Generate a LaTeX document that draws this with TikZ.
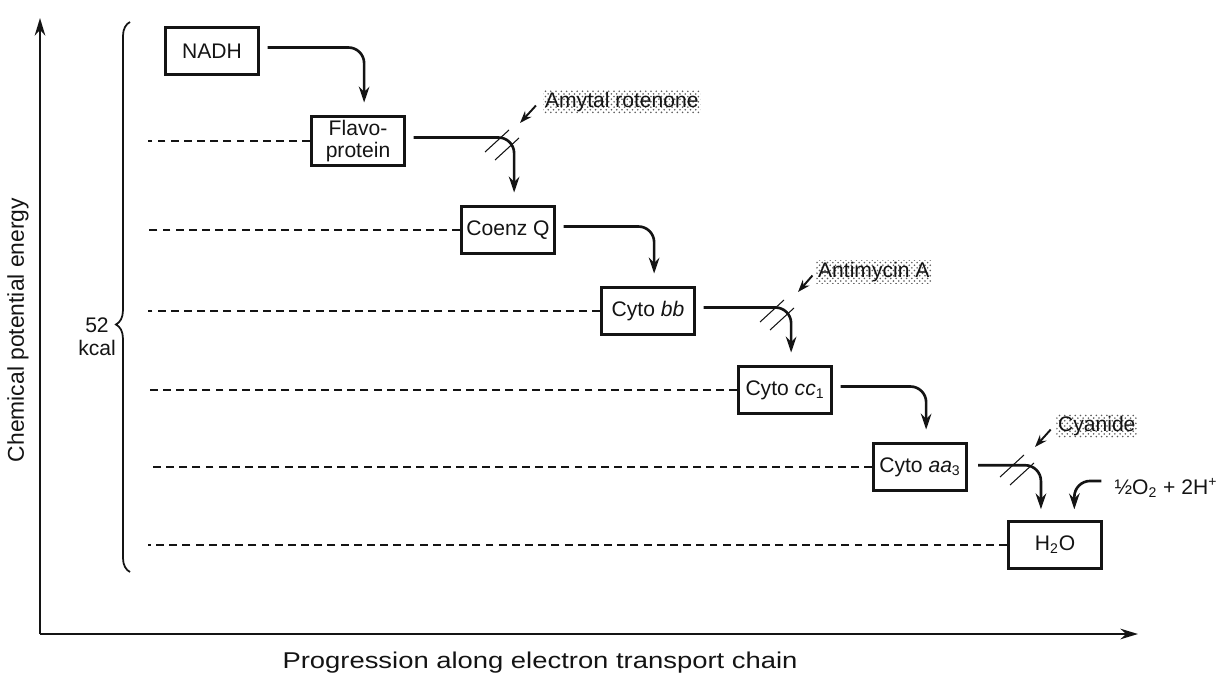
\documentclass[tikz,border=0pt]{standalone}
\usepackage{fontspec}
\setmainfont{Liberation Sans}
\usepackage{tikz}
\usetikzlibrary{arrows.meta,positioning,decorations.pathreplacing,patterns}
\definecolor{inkblack}{RGB}{20, 20, 20}
\definecolor{stipplegray}{RGB}{90, 90, 90}

% two parallel strokes across a blocked step
\newcommand{\cutmark}[1]{%
    \draw[cutline] ([shift={(-18,10)}]#1) -- ++(24,-22);
    \draw[cutline] ([shift={(-8,18)}]#1) -- ++(24,-22);
}

\begin{document}
\begin{tikzpicture}[x=0.02cm, y=-0.02cm, every node/.style={font=\fontsize{12}{13}\selectfont, text=inkblack},
    carrier/.style={draw=inkblack, line width=1.6pt, minimum width=1.85cm, minimum height=0.95cm, inner sep=2pt, align=center},
    flow/.style={draw=inkblack, line width=1.5pt, rounded corners=9pt, -{Stealth[length=9pt,width=6pt]}},
    level/.style={draw=inkblack, line width=0.7pt, dash pattern=on 4.5pt off 3pt},
    poison/.style={pattern=crosshatch dots, pattern color=stipplegray, inner sep=1pt, anchor=west},
    hint/.style={draw=inkblack, line width=1.1pt, -{Stealth[length=7pt,width=5pt]}},
    cutline/.style={draw=inkblack, line width=0.6pt},
    axis/.style={draw=inkblack, line width=1.4pt, -{Stealth[length=10pt,width=6pt]}}]
    \useasboundingbox (0,0) rectangle (1221,679);

    % Axes
    \coordinate (origin) at (40,634);
    \draw[axis] (origin) -- (40,18);
    \draw[axis] (origin) -- (1138,634);
    \node[rotate=90, font=\fontsize{13}{14}\selectfont] (ylab) at (18,330) {Chemical potential energy};
    \node[xscale=1.2, font=\fontsize{13}{14}\selectfont] (xlab) at (540,663) {Progression along electron transport chain};

    % Energy span
    \draw[inkblack, line width=1pt, decorate, decoration={brace, amplitude=8pt, aspect=0.45}] (130,572) -- (130,22);
    \node[align=center] (span) at (97,337) {52\\kcal};

    % Carriers
    \node[carrier] (nadh)  at (212,51)  {NADH};
    \node[carrier] (flavo) at (358,141) {Flavo-\\protein};
    \node[carrier] (coq)   at (508,230) {Coenz Q};
    \node[carrier] (cytb)  at (648,311) {Cyto \textit{bb}};
    \node[carrier] (cytc)  at (785,390) {Cyto \textit{cc}\textsubscript{1}};
    \node[carrier] (cyta)  at (920,467) {Cyto \textit{aa}\textsubscript{3}};
    \node[carrier] (water) at (1055,545) {H\textsubscript{2}O};

    % Energy levels
    \coordinate (lft) at (148,0);
    \foreach \n in {flavo, coq, cytb, cytc, cyta, water}
        \draw[level] (\n.west) -- (\n.west -| lft);

    % Electron flow
    \foreach \a/\b in {nadh/flavo, flavo/coq, coq/cytb, cytb/cytc, cytc/cyta}
        \draw[flow] ([xshift=4.5pt,yshift=2pt]\a.east) -| ([xshift=3.5pt,yshift=7pt]\b.north);
    \draw[flow] ([xshift=6pt,yshift=1pt]cyta.east) -| ([xshift=-8pt,yshift=6pt]water.north);

    \node (oxy) at (1166,488) {\textonehalf O\textsubscript{2} + 2H\textsuperscript{+}};
    \draw[flow] ([xshift=-4pt,yshift=4pt]oxy.west) -| ([xshift=11pt,yshift=6pt]water.north);

    % Inhibitors
    \node[poison] (amytal) at (543,102) {Amytal rotenone};
    \node[poison] (antim)  at (816,272) {Antimycin A};
    \node[poison] (cyan)   at (1056,426) {Cyanide};
    \coordinate (tip1) at (520,123);
    \coordinate (tip2) at (798,292);
    \coordinate (tip3) at (1035,447);
    \draw[hint] ([xshift=-4pt,yshift=-2pt]amytal.west) -- (tip1);
    \draw[hint] ([xshift=-2pt,yshift=-2pt]antim.west) -- (tip2);
    \draw[hint] ([xshift=-3pt,yshift=-2pt]cyan.west) -- (tip3);
    \cutmark{503,142}
    \cutmark{778,312}
    \cutmark{1018,467}
\end{tikzpicture}
\end{document}
